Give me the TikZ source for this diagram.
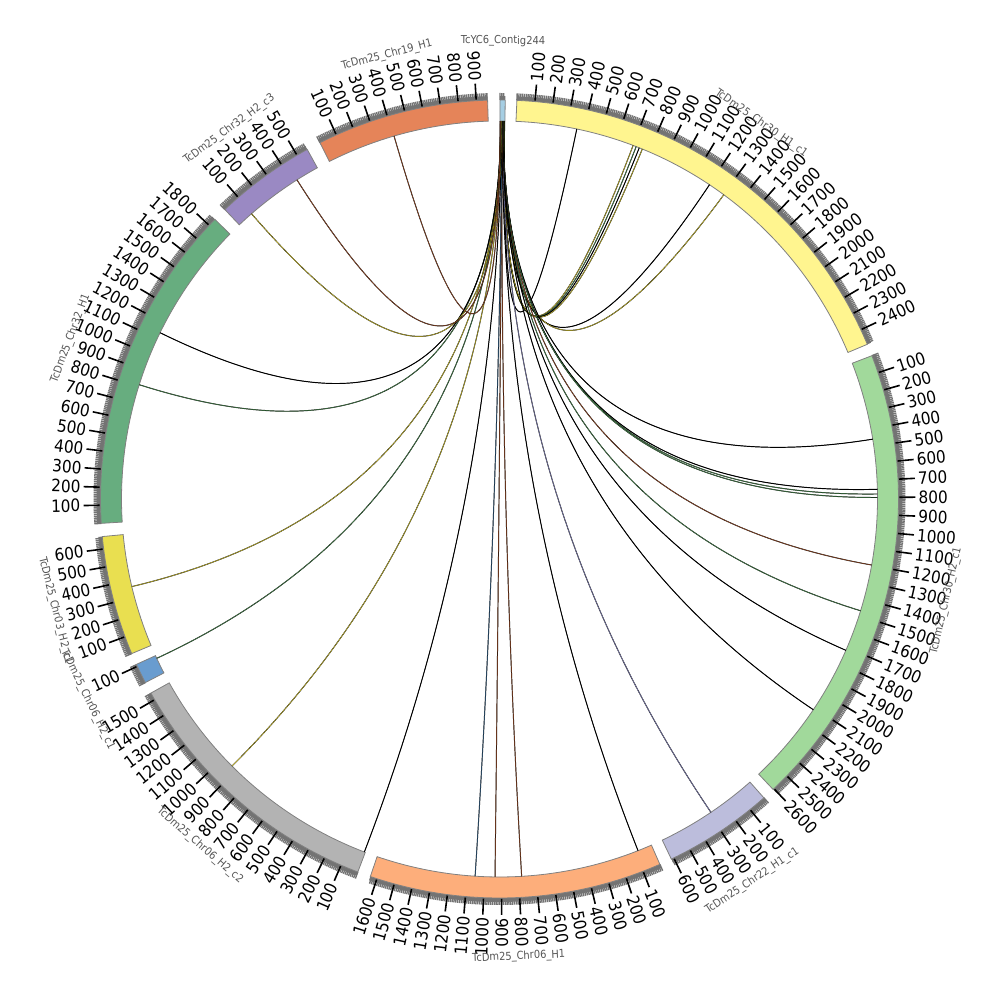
\documentclass[tikz,border=0pt]{standalone}
\usepackage{fontspec}
\setmainfont{DejaVu Sans Condensed}
\usetikzlibrary{calc}
\definecolor{cctg}{HTML}{A6CEE3}
\definecolor{cyel}{HTML}{FFF58F}
\definecolor{cgrn}{HTML}{A1D99B}
\definecolor{clav}{HTML}{BCBDDC}
\definecolor{cora}{HTML}{FDAE7B}
\definecolor{cgry}{HTML}{B3B3B3}
\definecolor{cblu}{HTML}{699CCF}
\definecolor{cyl2}{HTML}{E9DF50}
\definecolor{cgr2}{HTML}{67AD7F}
\definecolor{cpur}{HTML}{9A89C3}
\definecolor{cor2}{HTML}{E58459}
\definecolor{segline}{HTML}{808080}
\definecolor{tickgray}{HTML}{737373}
\definecolor{labgray}{HTML}{555555}
\definecolor{lkyel}{HTML}{D9C932}
\definecolor{lkgrn}{HTML}{4F8F55}
\definecolor{lkbrn}{HTML}{A0522D}
\definecolor{lksteel}{HTML}{3F6E96}
\definecolor{lklav}{HTML}{8C8CC4}
\begin{document}
\begin{tikzpicture}[x=1pt, y=1pt,
    seg/.style={draw=segline, line width=0.8pt},
    mt/.style={draw=tickgray, line width=1.4pt},
    Mt/.style={draw=black, line width=1.6pt},
    tl/.style={font=\fontsize{17}{17}\selectfont, inner sep=1pt},
    nm/.style={font=\fontsize{11}{11}\selectfont, text=labgray, inner sep=0pt},
    lk/.style={draw=black, line width=0.25pt, double distance=0.45pt}
  ]
  \useasboundingbox (-499.5,-501) rectangle (500.5,499);
  \coordinate (o) at (0,0);
  \foreach \n/\st/\len/\col/\lab in {
      ctg/89.93/29/cctg/TcYC6\_Contig244,
      h1/87.5/2488/cyel/TcDm25\_Chr30\_H1\_c1,
      h2/21.05/2606/cgrn/TcDm25\_Chr30\_H2\_c1,
      c22/-48.5/615/clav/TcDm25\_Chr22\_H1\_c1,
      c6a/-66.3/1638/cora/TcDm25\_Chr06\_H1,
      c6b/-110.8/1542/cgry/TcDm25\_Chr06\_H2\_c2,
      c6c/-152.6/112/cblu/TcDm25\_Chr06\_H2\_c1,
      c3/-157.2/669/cyl2/TcDm25\_Chr03\_H2\_c1,
      c32a/183.5/1846/cgr2/TcDm25\_Chr32\_H1,
      c32b/133.5/565/cpur/TcDm25\_Chr32\_H2\_c3,
      c19/116.75/963/cor2/TcDm25\_Chr19\_H1} {
    \pgfmathsetmacro\en{\st-0.026*\len}
    \fill[tickgray] (\st:399) arc[start angle=\st, end angle=\en, radius=399]
      -- (\en:403) arc[start angle=\en, end angle=\st, radius=403] -- cycle;
    \pgfmathtruncatemacro\nmin{\len/10}
    \foreach \k in {0,...,\nmin}
      \draw[mt] ({\st-0.26*\k}:399) -- ({\st-0.26*\k}:406);
    \draw[seg, fill=\col] (\st:378) arc[start angle=\st, end angle=\en, radius=378]
      -- (\en:399) arc[start angle=\en, end angle=\st, radius=399] -- cycle;
    \pgfmathtruncatemacro\nmaj{\len/100}
    \ifnum\nmaj>0
      \foreach \k in {1,...,\nmaj} {
        \pgfmathsetmacro\a{\st-2.6*\k}
        \pgfmathtruncatemacro\tv{100*\k}
        \pgfmathtruncatemacro\rt{cos(\a)>=0}
        \draw[Mt] (\a:400) -- (\a:416);
        \ifnum\rt=1
          \node[tl, rotate=\a, anchor=west] (\n-\tv) at (\a:418) {\tv};
        \else
          \node[tl, rotate=\a+180, anchor=east] (\n-\tv) at (\a:418) {\tv};
        \fi
      }
    \fi
    \pgfmathsetmacro\m{\st-0.013*\len}
    \pgfmathsetmacro\nr{sin(\m)>=0 ? \m-90 : \m+90}
    \node[nm, rotate=\nr] (\n) at (\m:458) {\lab};
  }
  \foreach \s/\e/\c [count=\j] in {
      89.22/78.2/black, 89.27/69.3/lkyel, 89.29/68.8/lkgrn, 89.31/68.3/black,
      89.33/67.8/lkyel, 89.36/56.25/black, 89.38/53.6/lkyel,
      89.40/9.11/black, 89.42/1.47/black, 89.44/0.76/lkgrn, 89.45/0.23/lkgrn,
      89.47/-10.06/lkbrn, 89.49/-17.2/lkgrn, 89.51/-23.6/black, 89.53/-33.88/black,
      89.55/-55.99/lklav,
      89.57/-68.5/black, 89.59/-86.64/lkbrn, 89.61/-90.68/lkbrn, 89.63/-93.7/lksteel,
      89.65/-110.95/black, 89.67/-135.05/lkyel,
      89.70/-155.07/lkgrn, 89.72/-166.6/lkyel,
      89.78/162.4/lkgrn, 89.82/153.9/black,
      89.85/131.0/lkyel, 89.87/122.4/lkbrn, 89.90/106.2/lkbrn} {
    \coordinate (ls\j) at (\s:378);
    \coordinate (le\j) at (\e:378);
    \draw[lk, double=\c] (ls\j) .. controls ($(ls\j)!2/3!(o)$) and ($(le\j)!2/3!(o)$) .. (le\j);
  }
\end{tikzpicture}
\end{document}
